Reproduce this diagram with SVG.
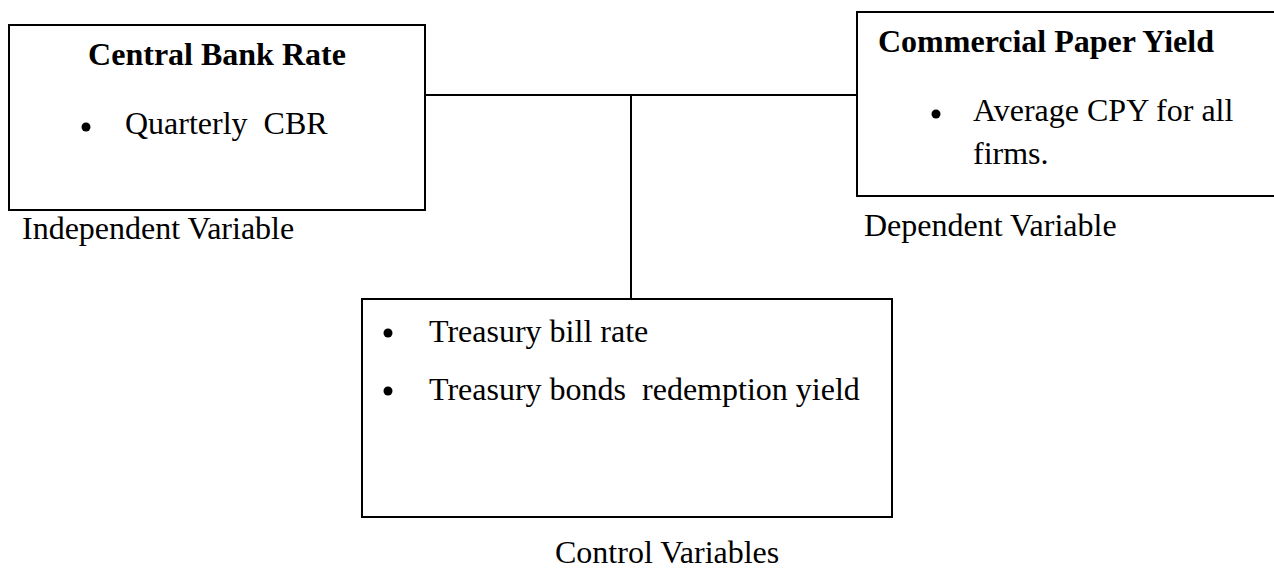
<svg xmlns="http://www.w3.org/2000/svg" width="1274" height="570" viewBox="0 0 1274 570">
<style>
.box{fill:#fff;stroke:#000;stroke-width:2}
.ln{stroke:#000;stroke-width:2;fill:none}
text{font-family:"Liberation Serif","Times New Roman",serif;font-size:32px;fill:#000}
.b{font-weight:bold}
</style>
<rect width="1274" height="570" fill="#fff"/>
<g id="connectors">
<line class="ln" x1="425" y1="95" x2="857" y2="95"/>
<line class="ln" x1="631" y1="95" x2="631" y2="299"/>
</g>
<g id="cbr">
<rect class="box" x="9" y="25" width="416" height="185"/>
<text class="b" x="217" y="65" text-anchor="middle">Central Bank Rate</text>
<circle cx="86" cy="127" r="4.5"/>
<text x="125" y="134" xml:space="preserve">Quarterly  CBR</text>
</g>
<g id="cpy">
<rect class="box" x="857" y="12" width="420" height="184"/>
<text class="b" x="878" y="52">Commercial Paper Yield</text>
<circle cx="936" cy="114" r="4.5"/>
<text x="973" y="121">Average CPY for all</text>
<text x="973" y="164">firms.</text>
</g>
<g id="control">
<rect class="box" x="362" y="299" width="530" height="218"/>
<circle cx="388" cy="333" r="4.5"/>
<text x="429" y="342">Treasury bill rate</text>
<circle cx="388" cy="391" r="4.5"/>
<text x="429" y="400" xml:space="preserve">Treasury bonds  redemption yield</text>
</g>
<text x="22" y="239">Independent Variable</text>
<text x="864" y="236">Dependent Variable</text>
<text x="555" y="563">Control Variables</text>
</svg>
